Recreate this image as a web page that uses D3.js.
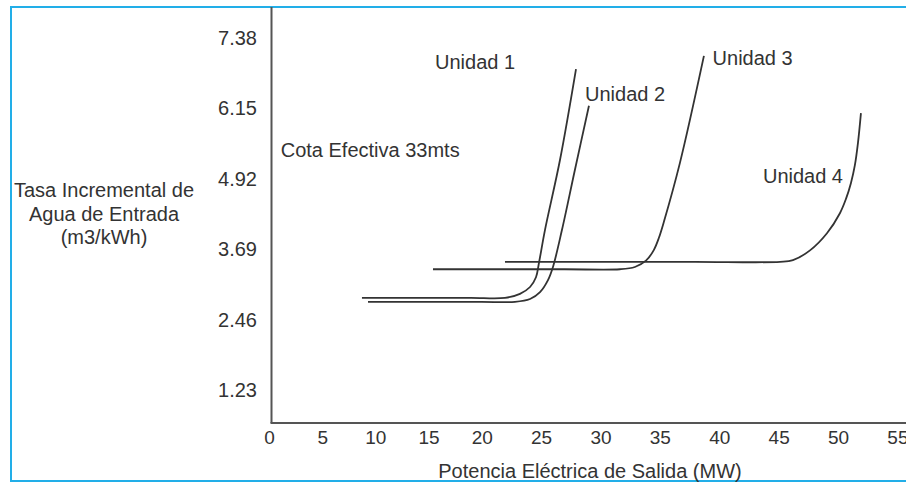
<!DOCTYPE html>
<html>
<head>
<meta charset="utf-8">
<script src="https://cdn.jsdelivr.net/npm/d3@7"></script>
<style>
  html, body { margin: 0; padding: 0; background: #fff; }
  svg { display: block; }
  text { font-family: "Liberation Sans", Arial, sans-serif; fill: #333; }
</style>
</head>
<body>
<div id="chart"></div>
<script>
// Tick labels
const xTicks = [0, 5, 10, 15, 20, 25, 30, 35, 40, 45, 50, 55];
const yTicks = [1.23, 2.46, 3.69, 4.92, 6.15, 7.38];

// Curves: [MW, m3/kWh]
const unidad1 = [[8.74, 2.84], [14, 2.84], [19, 2.84], [21.96, 2.84], [23.22, 2.91], [24.07, 3.03],
  [24.57, 3.20], [24.82, 3.45], [25.33, 4.03], [26.59, 5.25], [27.94, 6.84]];
const unidad2 = [[9.31, 2.77], [15, 2.77], [20, 2.77], [22.80, 2.77], [24.07, 2.82], [24.91, 2.94],
  [25.58, 3.15], [26.00, 3.38], [26.76, 4.03], [27.85, 5.08], [29.03, 6.20]];
const unidad3 = [[15.42, 3.34], [21, 3.34], [27, 3.34], [31.64, 3.34], [32.90, 3.38], [33.83, 3.49],
  [34.50, 3.68], [34.92, 3.89], [35.34, 4.17], [36.69, 5.20], [38.71, 7.07]];
const unidad4 = [[21.96, 3.47], [30, 3.47], [38, 3.47], [45.12, 3.47], [46.21, 3.50], [47.64, 3.67],
  [49.07, 3.97], [50.16, 4.32], [50.67, 4.57], [51.09, 4.85], [51.42, 5.16], [51.68, 5.55],
  [51.93, 6.07]];

const series = [unidad1, unidad2, unidad3, unidad4];

// Annotations, anchored in data units (start of text, baseline)
const labels = [
  { text: 'Unidad 1', x: 15.61, y: 6.84 },
  { text: 'Unidad 2', x: 28.70, y: 6.29 },
  { text: 'Unidad 3', x: 39.44, y: 6.92 },
  { text: 'Unidad 4', x: 43.68, y: 4.85 },
  { text: 'Cota Efectiva 33mts', x: 1.10, y: 5.30 }
];

const yTitle = ['Tasa Incremental de', 'Agua de Entrada', '(m3/kWh)'];
const xTitle = 'Potencia Eléctrica de Salida (MW)';

const width = 906, height = 483;
const axisX = 271.5, axisY = 423;

const svg = d3.select('#chart').append('svg')
  .attr('width', width)
  .attr('height', height);

// the source axis is not evenly spaced, so the scale is piecewise
const x = d3.scaleLinear().domain([0, 20, 55]).range([269, 481.7, 897.4]);
const y = d3.scaleLinear().domain([0, 7.38]).range([460.3, 38.2]);

// frame
svg.append('path')
  .attr('d', `M${width + 5},7 H11 V481 H${width + 5}`)
  .attr('fill', 'none')
  .attr('stroke', '#22aee8')
  .attr('stroke-width', 2);

// axes
const gy = svg.append('g')
  .attr('transform', `translate(${axisX},0)`)
  .call(d3.axisLeft(y).tickValues(yTicks).tickSize(0).tickPadding(14.5).tickFormat(d3.format('.2f')));
gy.select('.domain').remove();
gy.selectAll('text').style('font-size', '20px').attr('fill', '#333');

const gx = svg.append('g')
  .attr('transform', `translate(0,${axisY})`)
  .call(d3.axisBottom(x).tickValues(xTicks).tickSize(0).tickPadding(7.5));
gx.select('.domain').remove();
gx.selectAll('text').style('font-size', '19px').attr('fill', '#333');

svg.append('line')
  .attr('x1', axisX).attr('x2', axisX)
  .attr('y1', 7).attr('y2', axisY)
  .attr('stroke', '#555').attr('stroke-width', 2);
svg.append('line')
  .attr('x1', axisX - 1).attr('x2', width)
  .attr('y1', axisY).attr('y2', axisY)
  .attr('stroke', '#555').attr('stroke-width', 2);

// curves
const line = d3.line()
  .x(d => x(d[0]))
  .y(d => y(d[1]))
  .curve(d3.curveCatmullRom.alpha(0.5));

svg.selectAll('.unidad')
  .data(series)
  .enter()
  .append('path')
  .attr('class', 'unidad')
  .attr('d', line)
  .attr('fill', 'none')
  .attr('stroke', '#333')
  .attr('stroke-width', 1.8);

svg.selectAll('.label')
  .data(labels)
  .enter()
  .append('text')
  .attr('class', 'label')
  .attr('x', d => x(d.x))
  .attr('y', d => y(d.y))
  .style('font-size', '20px')
  .text(d => d.text);

// titles
svg.append('text')
  .attr('text-anchor', 'middle')
  .style('font-size', '20px')
  .selectAll('tspan')
  .data(yTitle)
  .enter()
  .append('tspan')
  .attr('x', 104)
  .attr('y', (d, i) => 197 + i * 23.5)
  .text(d => d);

svg.append('text')
  .attr('x', 590)
  .attr('y', 478)
  .attr('text-anchor', 'middle')
  .style('font-size', '20px')
  .text(xTitle);
</script>
</body>
</html>
